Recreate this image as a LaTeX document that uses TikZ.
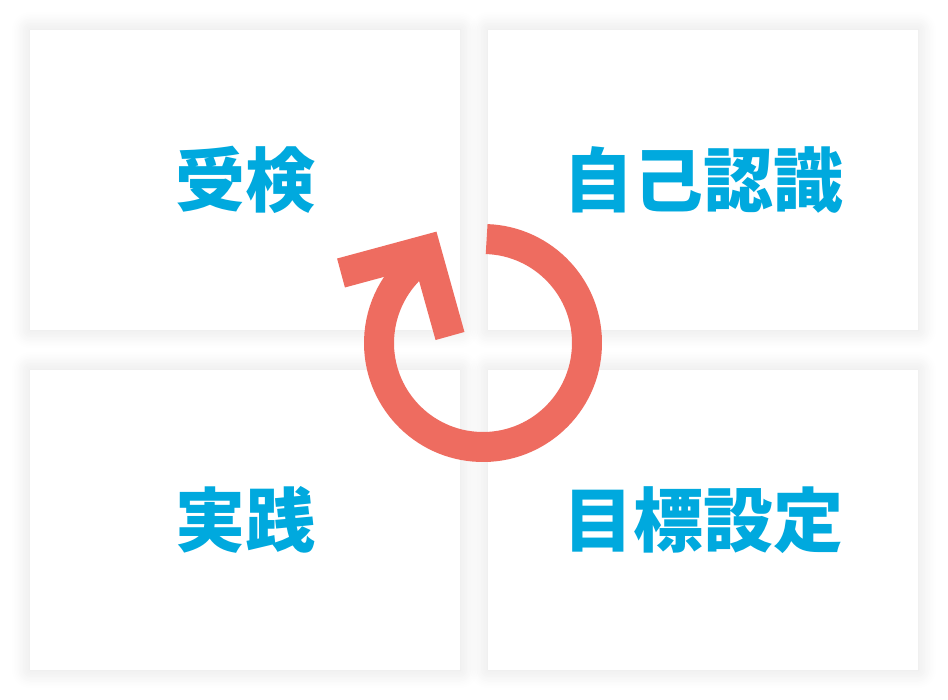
\documentclass[tikz,border=0pt]{standalone}
\usepackage{fontspec}
\newfontfamily\jpfont{Noto Sans CJK JP}
\usetikzlibrary{shadows.blur}
\definecolor{skyblue}{RGB}{0,169,222}
\definecolor{salmon}{RGB}{238,108,96}

\begin{document}
\begin{tikzpicture}[x=1pt,y=-1pt,
					box node/.style = {rectangle, fill=white, inner sep = 0pt, minimum width = 430pt, minimum height = 300pt,
					blur shadow={shadow xshift=0pt, shadow yshift=0pt, shadow blur radius=18pt, shadow blur steps=12, shadow opacity=12},
					text=skyblue, font=\jpfont\bfseries\fontsize{70}{80}\selectfont},
					ring/.style = {draw=salmon, line width = 30pt}]
					
					\useasboundingbox (0,0) rectangle (948,700);
					
					\node[box node] (1) at (245,180) {受検};
					\node[box node] (2) at (703,180) {自己認識};
					\node[box node] (3) at (245,520) {実践};
					\node[box node] (4) at (703,520) {目標設定};
					
					\draw[ring] (483,343) ++(-88:104) arc[start angle=-88, end angle=233, radius=104];
					\draw[ring] (341,273) -- (426,250) -- (450,336);
					
					\end{tikzpicture}
\end{document}
